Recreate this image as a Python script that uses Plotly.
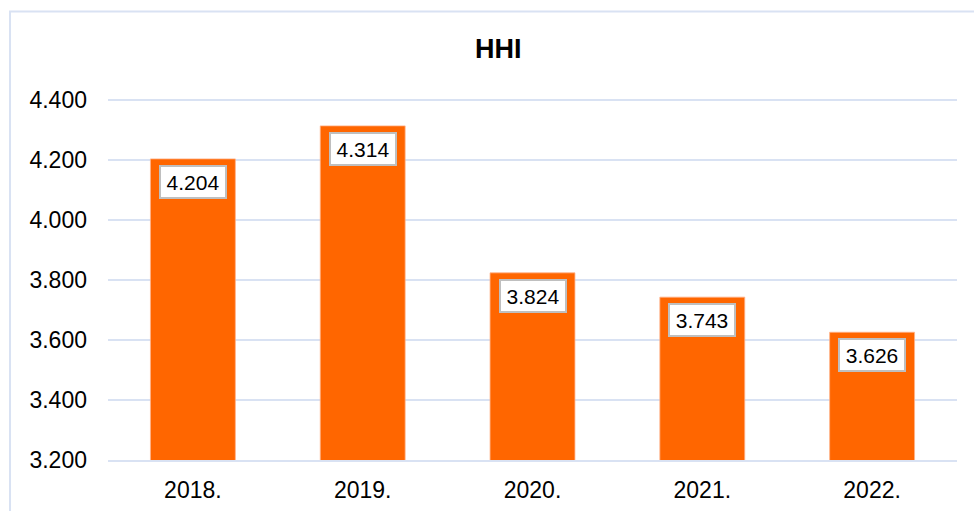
import plotly.graph_objects as go

# HHI by year
years = ["2018.", "2019.", "2020.", "2021.", "2022."]
hhi = [4204, 4314, 3824, 3743, 3626]
y_ticks = [3200, 3400, 3600, 3800, 4000, 4200, 4400]

BAR = "#FF6600"
GRID = "#D9E2F3"
FONT = "Liberation Sans, Arial, sans-serif"


def fmt(v):
    return f"{v:,}".replace(",", ".")


fig = go.Figure(
    go.Bar(
        x=years,
        y=hhi,
        marker=dict(color=BAR, line=dict(color="#FFB38A", width=0.8)),
        hoverinfo="skip",
    )
)

# value boxes sitting just inside the top of each bar (x = category index)
for i, v in enumerate(hhi):
    fig.add_annotation(
        x=i, y=v, xref="x", yref="y",
        text=fmt(v), showarrow=False,
        yanchor="middle", yshift=-23,
        font=dict(family=FONT, size=21, color="#000000"),
        bgcolor="#FFFFFF", bordercolor="#BFBFBF", borderwidth=2,
        width=64, height=30, borderpad=0,
    )

# outer frame of the chart area
fig.add_shape(
    type="rect", xref="paper", yref="paper",
    x0=-0.1154, x1=1.2, y0=-0.5, y1=1.239,
    line=dict(color=GRID, width=2), fillcolor="rgba(0,0,0,0)",
    layer="below",
)

fig.update_layout(
    width=974, height=511,
    margin=dict(l=108, r=17, t=98, b=51),
    paper_bgcolor="#FFFFFF", plot_bgcolor="#FFFFFF",
    separators=",.",
    bargap=0.5,
    showlegend=False,
    font=dict(family=FONT, color="#000000"),
    title=dict(
        text="<b>HHI</b>", x=0.5115, xanchor="center",
        y=1 - 49 / 511, yanchor="middle", yref="container",
        font=dict(family=FONT, size=27, color="#000000"),
    ),
    xaxis=dict(
        type="category", automargin=False,
        showgrid=False, zeroline=False,
        showline=True, linecolor=GRID, linewidth=2,
        ticks="", tickfont=dict(family=FONT, size=23, color="#000000"),
        ticklabelstandoff=8,
    ),
    yaxis=dict(
        range=[y_ticks[0], 4407], tickvals=y_ticks, tickformat=",",
        automargin=False,
        showgrid=True, gridcolor=GRID, gridwidth=2,
        showline=False, zeroline=False, ticks="",
        tickfont=dict(family=FONT, size=23, color="#000000"),
        ticklabelstandoff=20,
    ),
)

fig.write_html("out.html")
